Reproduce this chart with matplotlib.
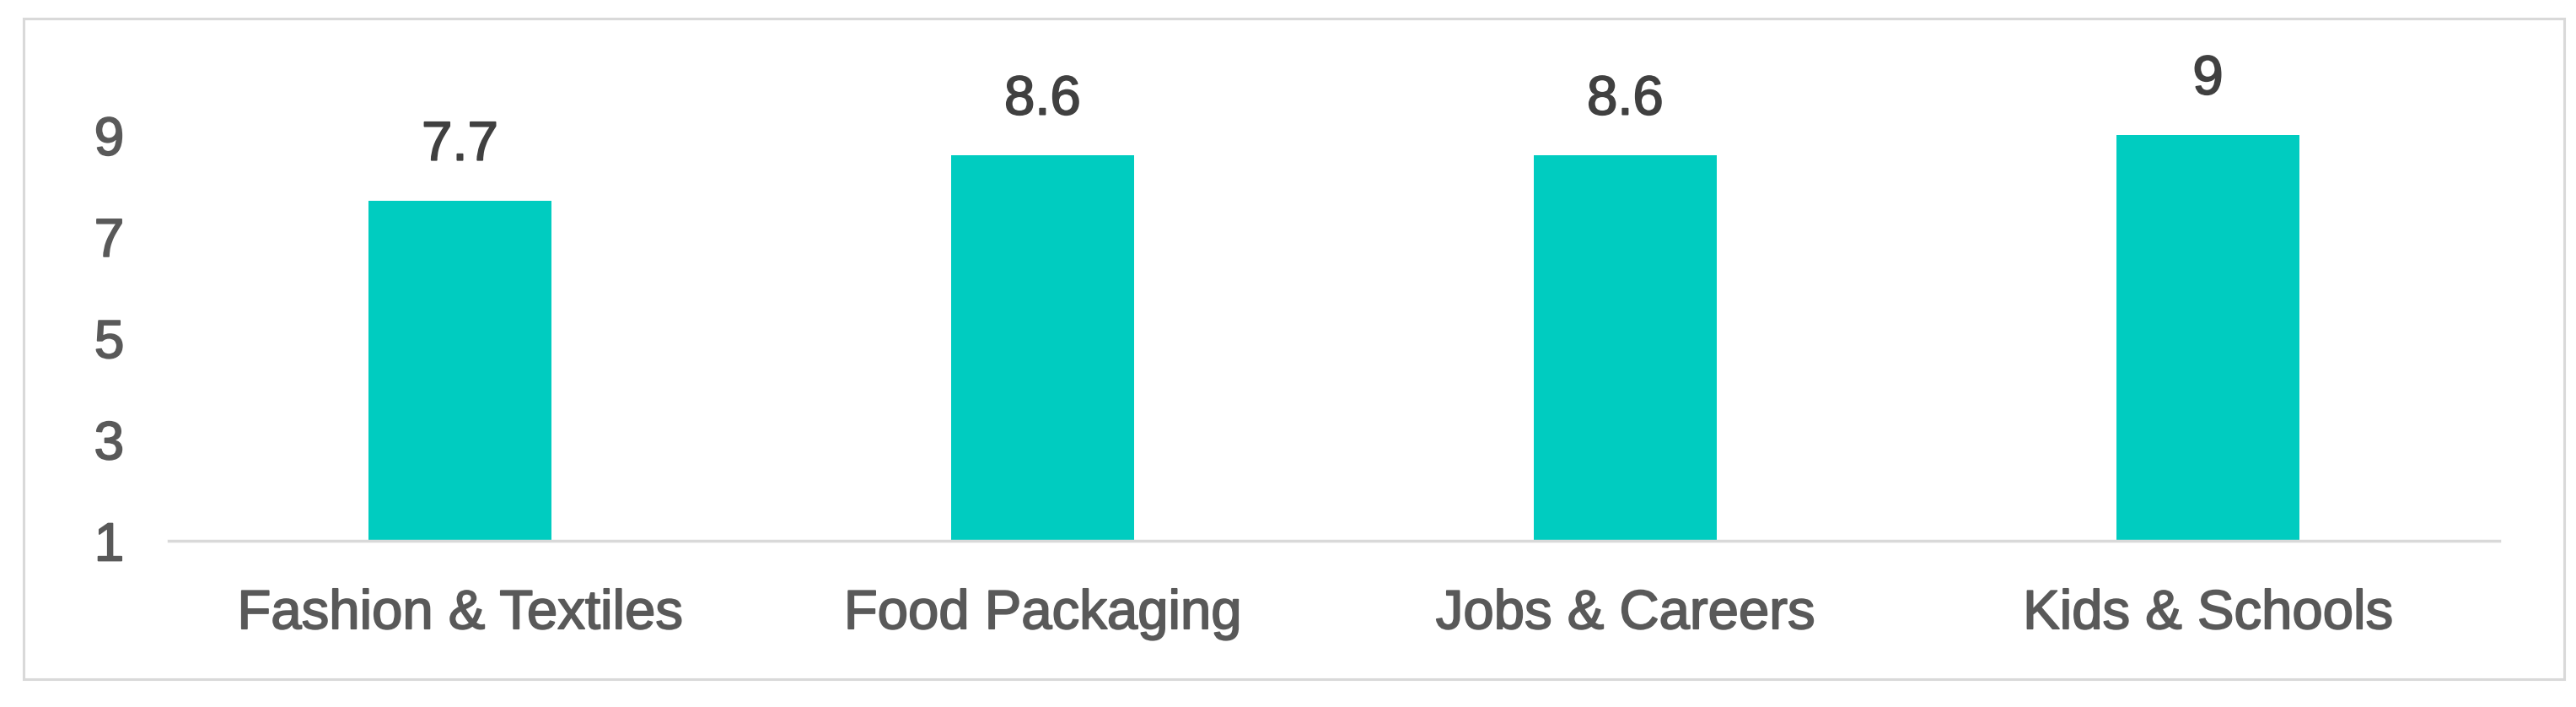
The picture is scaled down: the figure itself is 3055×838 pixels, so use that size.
import matplotlib
matplotlib.use("Agg")
import matplotlib.pyplot as plt
from matplotlib.patches import Rectangle
import matplotlib.patheffects as pe

categories = ["Fashion & Textiles", "Food Packaging", "Jobs & Careers", "Kids & Schools"]
values = [7.7, 8.6, 8.6, 9]
value_labels = ["7.7", "8.6", "8.6", "9"]
yticks = [1, 3, 5, 7, 9]

W, H = 3055, 838
dpi = 100
plt.rcParams['font.family'] = ['Liberation Sans', 'DejaVu Sans']
fig = plt.figure(figsize=(W / dpi, H / dpi), dpi=dpi)
fig.patch.set_facecolor("white")

# axes placement in pixels
ax_left, ax_right, ax_bottom = 200, 2964, 641
ymin, ymax = 1, 10.5
px_per_unit = 60.1
ax_top = ax_bottom - (ymax - ymin) * px_per_unit
ax = fig.add_axes([ax_left / W, 1 - ax_bottom / H, (ax_right - ax_left) / W, (ax_bottom - ax_top) / H])

bar_color = "#00CCC0"
x = list(range(len(categories)))
ax.bar(x, [v - ymin for v in values], bottom=ymin, width=0.315, color=bar_color, zorder=2)
ax.set_xlim(-0.5, len(categories) - 0.5)
ax.set_ylim(ymin, ymax)

thick_dark = [pe.withStroke(linewidth=1.3, foreground="#404040")]
thick_grey = [pe.withStroke(linewidth=1.3, foreground="#595959")]

for xi, v, lab in zip(x, values, value_labels):
    ax.annotate(lab, (xi, v), xytext=(0, 35), textcoords="offset points",
                ha="center", va="baseline", fontsize=47, color="#404040",
                path_effects=thick_dark)

ax.set_yticks(yticks)
ax.set_yticklabels([str(t) for t in yticks])
ax.set_xticks(x)
ax.set_xticklabels(categories, va="baseline")
ax.tick_params(axis="y", length=0, pad=38, labelsize=46, labelcolor="#595959")
ax.tick_params(axis="x", length=0, pad=75, labelsize=47, labelcolor="#595959")
for t in ax.get_xticklabels() + ax.get_yticklabels():
    t.set_path_effects(thick_grey)

for s in ["left", "right", "top"]:
    ax.spines[s].set_visible(False)
ax.spines["bottom"].set_color("#D9D9D9")
ax.spines["bottom"].set_linewidth(2.5)
ax.set_facecolor("none")

# outer border
bx0, by0, bx1, by1 = 28, 22, 3041, 805
rect = Rectangle((bx0 / W, 1 - by1 / H), (bx1 - bx0) / W, (by1 - by0) / H,
                 transform=fig.transFigure, fill=False, edgecolor="#D9D9D9", linewidth=2.2)
fig.patches.append(rect)

fig.savefig("out.png", dpi=dpi, facecolor="white")
